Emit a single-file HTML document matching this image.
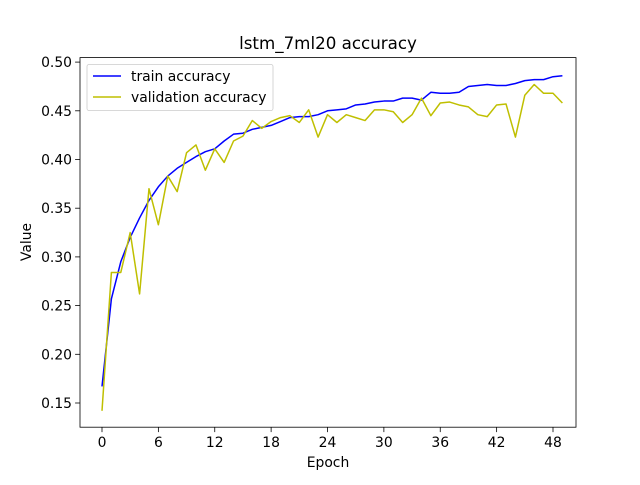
<!DOCTYPE html>
<html><head><meta charset="utf-8"><style>
body{margin:0;background:#fff}
svg text{font-family:"DejaVu Sans","Liberation Sans",sans-serif;fill:#000}
</style></head><body>
<svg id="chart" width="640" height="480" xmlns="http://www.w3.org/2000/svg">
<rect x="0" y="0" width="640" height="480" fill="#fff"/>
<g id="plot"></g>
</svg>
<script>
const epochs = Array.from({length:50},(_,i)=>i);
const trainAcc = [0.167,0.257,0.295,0.320,0.340,0.358,0.372,0.383,0.391,0.397,0.403,0.408,0.411,0.419,0.426,0.427,0.431,0.433,0.435,0.439,0.443,0.444,0.444,0.446,0.450,0.451,0.452,0.456,0.457,0.459,0.460,0.460,0.463,0.463,0.461,0.469,0.468,0.468,0.469,0.475,0.476,0.477,0.476,0.476,0.478,0.481,0.482,0.482,0.485,0.486];
const valAcc = [0.142,0.284,0.284,0.325,0.262,0.370,0.333,0.383,0.367,0.407,0.415,0.389,0.411,0.397,0.419,0.424,0.440,0.432,0.439,0.443,0.445,0.438,0.451,0.423,0.446,0.438,0.446,0.443,0.440,0.451,0.451,0.449,0.438,0.446,0.463,0.445,0.458,0.459,0.456,0.454,0.446,0.444,0.456,0.457,0.423,0.466,0.477,0.468,0.468,0.458];
const xTicks = [0,6,12,18,24,30,36,42,48];
const yTicks = [0.15,0.20,0.25,0.30,0.35,0.40,0.45,0.50];

const L=80,R=576,T=57.6,B=427.2;
const xs=v=>102+(v/48)*451;
const ys=v=>403-(v-0.15)*974;
const g=document.getElementById('plot');
const NS='http://www.w3.org/2000/svg';
function mk(tag,attrs,txt){const e=document.createElementNS(NS,tag);for(const k in attrs)e.setAttribute(k,attrs[k]);if(txt!==undefined)e.textContent=txt;g.appendChild(e);return e;}

function line(data,color,name){
  const p=mk('polyline',{points:data.map((v,i)=>xs(epochs[i])+','+ys(v)).join(' '),fill:'none',stroke:color,'stroke-width':1.5,'stroke-linejoin':'round'});
  
  
}
line(trainAcc,'#0000ff','train-accuracy-line');
line(valAcc,'#bfbf00','validation-accuracy-line');

const frame=mk('rect',{x:L,y:T,width:R-L,height:B-T,fill:'none',stroke:'#000','stroke-width':0.8});



xTicks.forEach(t=>{
  const x=xs(t);
  mk('line',{x1:x,x2:x,y1:B,y2:B+4.9,stroke:'#000','stroke-width':0.8});
  const tx=mk('text',{x:x,y:B+20,'text-anchor':'middle','font-size':13.9},String(t));
  
  
});
yTicks.forEach(t=>{
  const y=ys(t);
  mk('line',{x1:L-4.9,x2:L,y1:y,y2:y,stroke:'#000','stroke-width':0.8});
  const tx=mk('text',{x:L-8,y:y+5,'text-anchor':'end','font-size':13.9},t.toFixed(2));
  
  
});

const title=mk('text',{x:328,y:49,'text-anchor':'middle','font-size':16.7},'lstm_7ml20 accuracy');


const xt=mk('text',{x:328,y:467,'text-anchor':'middle','font-size':13.9},'Epoch');


const yt=mk('text',{x:31,y:242,'text-anchor':'middle','font-size':13.9,transform:'rotate(-90 31 242)'},'Value');



const lg=mk('rect',{x:87,y:64.5,width:186,height:46,fill:'#fff',stroke:'#ccc','stroke-width':0.8,rx:2});


mk('line',{x1:93,x2:121,y1:76,y2:76,stroke:'#0000ff','stroke-width':1.5});
const l1=mk('text',{x:131,y:81,'font-size':13.9},'train accuracy');


mk('line',{x1:93,x2:121,y1:97,y2:97,stroke:'#bfbf00','stroke-width':1.5});
const l2=mk('text',{x:131,y:102,'font-size':13.9},'validation accuracy');


</script>
</body></html>
